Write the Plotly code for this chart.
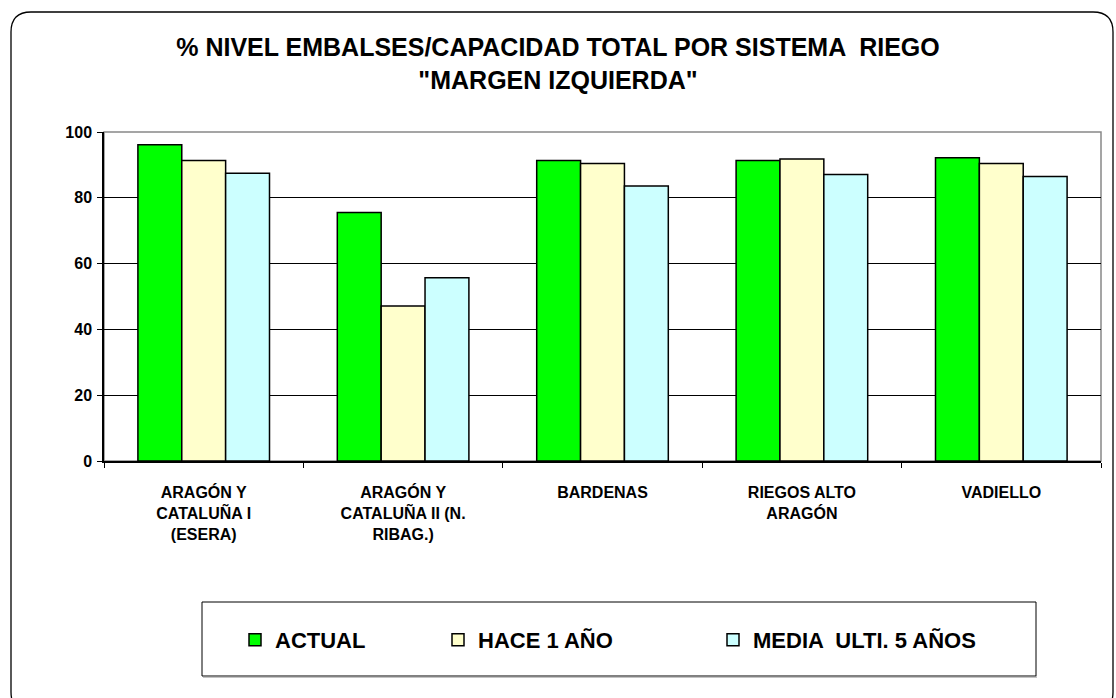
import plotly.graph_objects as go

categories = [
    "ARAGÓN Y<br>CATALUÑA I<br>(ESERA)",
    "ARAGÓN Y<br>CATALUÑA II (N.<br>RIBAG.)",
    "BARDENAS",
    "RIEGOS ALTO<br>ARAGÓN",
    "VADIELLO",
]
actual = [96.1, 75.5, 91.3, 91.3, 92.2]
hace_1_anio = [91.3, 47.1, 90.4, 91.8, 90.4]
media_5_anios = [87.5, 55.7, 83.6, 87.1, 86.5]
series_names = ["ACTUAL", "HACE 1 AÑO", "MEDIA  ULTI. 5 AÑOS"]
y_ticks = [0, 20, 40, 60, 80, 100]

colors = ["#00FF00", "#FFFFCC", "#CCFFFF"]
FONT = "Liberation Sans, Arial, sans-serif"

W, H = 1116, 698
PL, PR, PT, PB = 104, 1101, 132, 461


def fx(x):
    return (x - PL) / (PR - PL)


def fy(y):
    return (PB - y) / (PB - PT)


fig = go.Figure()
legend_ids = ["legend", "legend2", "legend3"]
for name, vals, col, lid in zip(series_names, [actual, hace_1_anio, media_5_anios], colors, legend_ids):
    fig.add_trace(go.Bar(
        x=categories, y=vals, name=name,
        marker=dict(color=col, line=dict(color="black", width=1.5)),
        legend=lid,
    ))

# legend box and outer rounded frame
shapes = []
shapes.append(dict(type="rect", xref="paper", yref="paper",
                   x0=fx(202), x1=fx(1036), y0=fy(676), y1=fy(602),
                   line=dict(color="black", width=1), fillcolor="rgba(0,0,0,0)"))
shapes.append(dict(type="line", xref="paper", yref="paper",
                   x0=fx(203), x1=fx(1037), y0=fy(677), y1=fy(677),
                   line=dict(color="#888888", width=1)))
L, T, R, B, r = 11, 12, 1113, 712, 20
path = (f"M {fx(L + r)},{fy(T)} L {fx(R - r)},{fy(T)} Q {fx(R)},{fy(T)} {fx(R)},{fy(T + r)} "
        f"L {fx(R)},{fy(B - r)} Q {fx(R)},{fy(B)} {fx(R - r)},{fy(B)} "
        f"L {fx(L + r)},{fy(B)} Q {fx(L)},{fy(B)} {fx(L)},{fy(B - r)} "
        f"L {fx(L)},{fy(T + r)} Q {fx(L)},{fy(T)} {fx(L + r)},{fy(T)} Z")
shapes.append(dict(type="path", xref="paper", yref="paper", path=path,
                   line=dict(color="black", width=1.3), fillcolor="rgba(0,0,0,0)"))
# plot-area frame (grey top/right)
shapes.append(dict(type="rect", xref="paper", yref="paper", x0=0, x1=1, y0=0, y1=1,
                   line=dict(color="#888888", width=1.5), layer="between"))

legend_font = dict(family=FONT, size=22, color="black", weight="bold")
leg_text_x = [277, 480, 755]
legends = {}
for lid, tx in zip(legend_ids, leg_text_x):
    legends[lid] = dict(x=fx(tx - 42), y=fy(640), xanchor="left", yanchor="middle",
                        orientation="h", bgcolor="rgba(0,0,0,0)", borderwidth=0,
                        font=legend_font)

fig.update_layout(
    width=W, height=H,
    margin=dict(l=PL, r=W - PR, t=PT, b=H - PB, pad=0),
    paper_bgcolor="white", plot_bgcolor="white",
    barmode="group", bargap=0.34, bargroupgap=0,
    title=dict(text="% NIVEL EMBALSES/CAPACIDAD TOTAL POR SISTEMA  RIEGO<br>\"MARGEN IZQUIERDA\"",
               x=0.5, xanchor="center", y=1 - 56 / H, yanchor="top",
               font=dict(family=FONT, size=25, color="black", weight="bold")),
    font=dict(family=FONT, color="black"),
    shapes=shapes,
    showlegend=True,
    hovermode=False,
    **legends,
)
fig.update_yaxes(range=[0, 100], tickvals=y_ticks, showgrid=True, gridcolor="black", gridwidth=1,
                 showline=True, linecolor="black", linewidth=1.5,
                 ticks="outside", ticklen=5, tickcolor="black", ticklabelstandoff=2,
                 tickfont=dict(family=FONT, size=16, color="black", weight="bold"),
                 zeroline=False, fixedrange=True)
fig.update_xaxes(showline=True, linecolor="black", linewidth=1.5,
                 ticks="outside", ticklen=5, tickcolor="black", tickson="boundaries",
                 ticklabelstandoff=16,
                 tickfont=dict(family=FONT, size=16, color="black", weight="bold"),
                 showgrid=False, fixedrange=True)

fig.write_html("out.html", config={"displayModeBar": False},
               post_script="document.body.style.margin='0px';document.body.style.overflow='hidden';")
